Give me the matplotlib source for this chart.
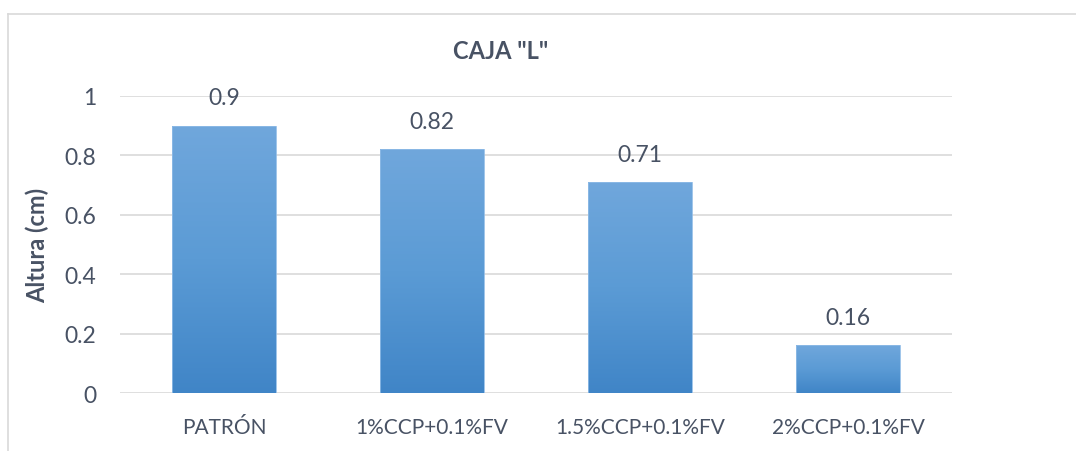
import matplotlib
matplotlib.use("Agg")
import matplotlib.pyplot as plt
import numpy as np
from matplotlib.colors import LinearSegmentedColormap
from matplotlib.lines import Line2D

categories = ["PATRÓN", "1%CCP+0.1%FV", "1.5%CCP+0.1%FV", "2%CCP+0.1%FV"]
values = [0.9, 0.82, 0.71, 0.16]
value_labels = ["0.9", "0.82", "0.71", "0.16"]
yticks = [0, 0.2, 0.4, 0.6, 0.8, 1]
ytick_labels = ["0", "0.2", "0.4", "0.6", "0.8", "1"]
title = 'CAJA "L"'
ylabel = "Altura (cm)"

plt.rcParams['font.family'] = ['Lato', 'DejaVu Sans']
text_color = "#485264"

fig = plt.figure(figsize=(10.76, 4.52), dpi=100)
ax = fig.add_axes([0.1115, 0.1283, 0.7732, 0.6571])

x = np.arange(len(categories))
bars = ax.bar(x, values, width=0.5, color="#5B9BD5", zorder=2)

cmap = LinearSegmentedColormap.from_list("g", ["#4085C7", "#5B9BD5", "#70A7DC"])
grad = np.linspace(0, 1, 256).reshape(-1, 1)
for b in bars:
    x0, y0 = b.get_x(), b.get_y()
    w, h = b.get_width(), b.get_height()
    im = ax.imshow(grad, cmap=cmap, origin="lower", aspect="auto",
                   extent=[x0, x0 + w, y0, y0 + h], zorder=3)
    im.set_clip_path(b)
    b.set_facecolor("none")
    b.set_edgecolor("#8fbbe6")
    b.set_linewidth(0.6)
    b.set_zorder(4)

for xi, v, lab in zip(x, values, value_labels):
    ax.annotate(lab, (xi, v), xytext=(0, 20), textcoords="offset points",
                ha="center", va="center", fontsize=16.5, color=text_color)

ax.set_xlim(-0.5, 3.5)
ax.set_ylim(0, 1)
ax.set_yticks(yticks)
ax.set_yticklabels(ytick_labels)
ax.set_xticks(x)
ax.set_xticklabels(categories)
ax.tick_params(axis="y", length=0, pad=17, labelsize=16.5, labelcolor=text_color)
ax.tick_params(axis="x", length=0, pad=17, labelsize=15, labelcolor=text_color)
ax.grid(axis="y", color="#d9d9d9", linewidth=1.2, zorder=0)
ax.set_axisbelow(True)
for s in ax.spines.values():
    s.set_visible(False)
ax.set_ylabel(ylabel, fontsize=17, fontweight="bold", color=text_color)
ax.yaxis.set_label_coords(-0.085, 0.5)

fig.text(0.465, 0.885, title, ha="center", va="center", fontsize=17,
         fontweight="bold", color=text_color)

# outer chart border (top and left visible)
fig.add_artist(Line2D([8/1076, 1.0], [1 - 15/452, 1 - 15/452], transform=fig.transFigure,
                      color="#d9d9d9", linewidth=1.2))
fig.add_artist(Line2D([8/1076, 8/1076], [1 - 15/452, 0.0], transform=fig.transFigure,
                      color="#d9d9d9", linewidth=1.2))

fig.savefig("out.png", dpi=100)
